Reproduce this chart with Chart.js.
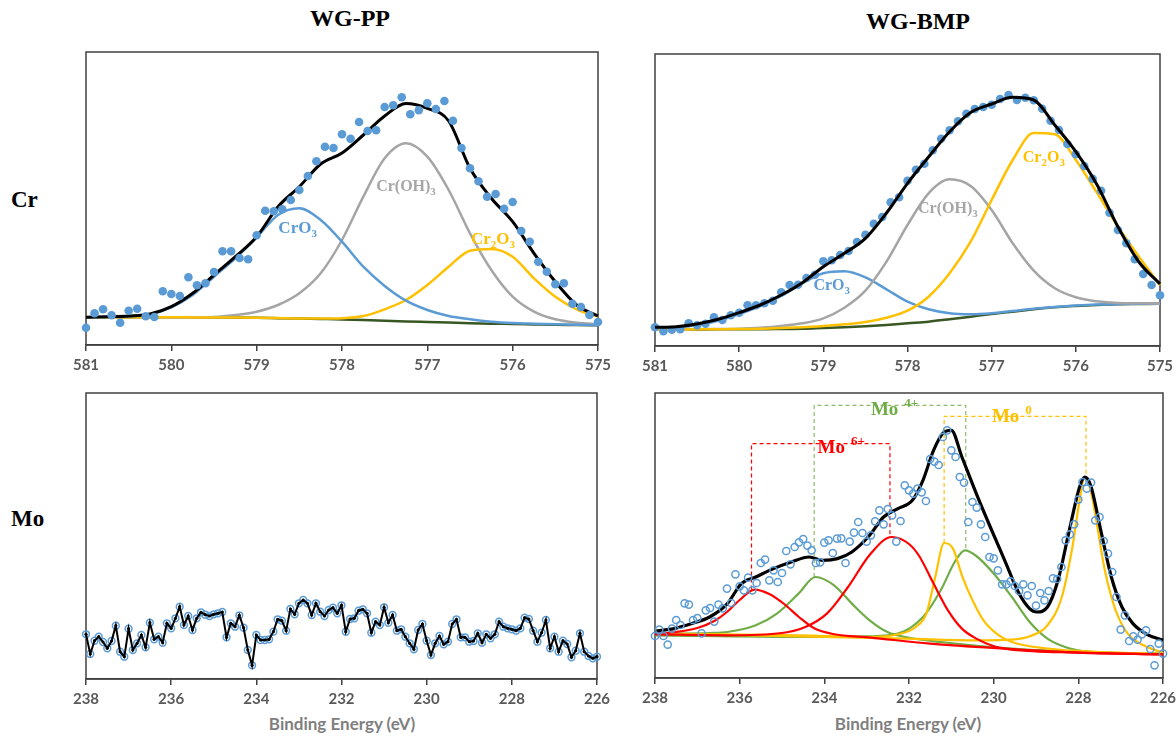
<!DOCTYPE html>
<html>
<head>
<meta charset="utf-8">
<script src="https://cdn.jsdelivr.net/npm/chart.js@4.4.1/dist/chart.umd.min.js"></script>
<style>
  body { margin: 0; background: #fff; width: 1176px; height: 738px; position: relative; overflow: hidden; }
  .panel { position: absolute; }
  .title { position: absolute; font: bold 24px "Liberation Serif"; line-height: 1; color: #000; white-space: nowrap; transform: translateX(-50%); }
  .row { position: absolute; font: bold 23px "Liberation Serif"; line-height: 1; color: #000; }
  .xlab { position: absolute; font: bold 17px Lato; line-height: 1; color: #7f7f7f; white-space: nowrap; transform: translateX(-50%); }
</style>
</head>
<body>
<div class="title" style="left:350px;top:6px">WG-PP</div>
<div class="title" style="left:918px;top:9px">WG-BMP</div>
<div class="row" style="left:11px;top:188px">Cr</div>
<div class="row" style="left:11px;top:507px">Mo</div>
<div class="xlab" style="left:342px;top:715px">Binding Energy (eV)</div>
<div class="xlab" style="left:908px;top:715px">Binding Energy (eV)</div>

<div class="panel" id="crPP"><canvas></canvas></div>
<div class="panel" id="crBMP"><canvas></canvas></div>
<div class="panel" id="moPP"><canvas></canvas></div>
<div class="panel" id="moBMP"><canvas></canvas></div>

<script>
// ---- Cr 2p, measured points every 0.1 eV from 581 to 575 ----
const crDotStart = 581, crDotStep = 0.1;
const crPP_dots = [17.3, 31.7, 35.7, 29.7, 22.3, 34.3, 36.3, 28.7, 28, 53.7, 51, 49, 67.7, 59.7, 61.7, 73, 93.7, 93.7, 87, 85.7,
  109.7, 134.3, 133.7, 135.7, 145, 155, 169, 183.7, 198.3, 197, 210.7, 206.3, 223, 214, 214.7, 238, 239.7, 247.7, 230.7, 234.7,
  241.7, 236, 244, 224.3, 197, 176.7, 163.7, 148.3, 151, 136.3, 143, 114, 103.3, 83.3, 73.3, 60.7, 61.7, 41.3, 38, 30, 23];
const crBMP_dots = [18.7, 14.7, 16.3, 16.7, 22.7, 20.7, 22.3, 28.7, 26, 30.7, 33.3, 40.7, 40.7, 42.7, 45.3, 53.7, 61, 61.3, 68, 71.3,
  84.7, 85.7, 91, 95, 104, 111.3, 122.3, 129, 143.7, 148.7, 165.3, 176.3, 182.3, 195.7, 207.3, 215.7, 224.7, 232.3, 237, 239,
  241.3, 247, 251, 246, 248.3, 245.7, 237.3, 225.3, 216, 202, 191.7, 180, 167.3, 155.3, 133.3, 116, 102.7, 86.7, 72, 61, 50.7];

// ---- Cr fitted curves, read at 0.25 eV ----
const crCurveE = [581, 580.75, 580.5, 580.25, 580, 579.75, 579.5, 579.25, 579, 578.75, 578.5, 578.25, 578,
  577.75, 577.5, 577.25, 577, 576.75, 576.5, 576.25, 576, 575.75, 575.5, 575.25, 575];
const crPP_fit   = [27.7, 28.3, 29, 31, 38.3, 51.7, 70, 88.3, 108.3, 138.3, 158.3, 181, 192, 210, 229, 241.5, 236.7, 224, 176.7, 146.7, 123.3, 91.7, 63.3, 40, 29];
const crPP_CrO3  = [27.7, 28, 28.7, 30.7, 37.7, 50, 68.3, 86.7, 107.7, 130, 136.7, 125, 103.3, 78.3, 59, 44.3, 35, 29, 25.7, 23.3, 22, 21.3, 20.7, 20.3, 20];
const crPP_CrOH3 = [27.7, 27.7, 27.7, 27.7, 27.7, 27.7, 28, 30, 33.3, 40, 51.7, 71.7, 105, 148.3, 186.7, 201.7, 188.3, 155, 111.7, 75, 48.3, 33.3, 25.7, 22.3, 20.7];
const crPP_Cr2O3 = [27.7, 27.7, 27.7, 27.7, 27.7, 27.6, 27.5, 27.4, 27.2, 26.9, 26.6, 26.5, 26.8, 29, 35.7, 45, 60, 78.3, 94.3, 96, 88.3, 66.7, 48.3, 35.7, 28.3];
const crPP_base  = [27.7, 27.7, 27.7, 27.7, 27.7, 27.6, 27.5, 27.4, 27.2, 26.8, 26.4, 26, 25.6, 25, 24.3, 23.6, 23, 22.4, 21.8, 21.3, 21, 20.6, 20.2, 20, 19.7];

const crBMP_fit   = [18.7, 19.3, 22, 26.7, 33.3, 41, 51, 63.3, 79.3, 92.7, 107.7, 133, 162.7, 189, 214.3, 233.5, 242, 248.7, 246, 221, 194.3, 161.5, 119.3, 84, 62];
const crBMP_CrO3  = [18, 18.7, 21, 25.3, 32, 40, 50, 62.7, 72.7, 74.7, 68.7, 56.7, 44.3, 36.7, 32.7, 31.7, 32.7, 35, 37.3, 39, 40.4, 41.4, 41.9, 42.2, 42.3];
const crBMP_CrOH3 = [16.3, 16.3, 16.7, 17, 17.3, 18.3, 20, 22.7, 27.7, 38.3, 55.3, 84.3, 121, 152.7, 166.7, 160, 136, 102.7, 75.3, 57.7, 48.7, 44.7, 43, 42.7, 42.3];
const crBMP_Cr2O3 = [16.3, 16.3, 16.7, 16.7, 17, 17.3, 18, 18.7, 20, 21.7, 24, 28.3, 35.3, 49.3, 72.7, 104.3, 146, 186, 213, 211.7, 186, 153.3, 119.3, 89.3, 61];
const crBMP_base  = [16.3, 16.3, 16.3, 16.7, 16.7, 16.7, 17, 17.3, 18, 18.7, 19.7, 21, 22.7, 24.3, 26.7, 29.3, 32, 34.3, 36.7, 38.7, 40, 41, 41.7, 42, 42.3];

// ---- Mo 3d, measured points every 0.1 eV from 238 to 226 ----
const moDotStart = 238, moDotStep = 0.1;
const moPP_dots = [44.7, 25, 38.3, 42.3, 37, 30.7, 38, 53.3, 27.3, 22.3, 50.3, 29, 35.7, 44, 31.7, 56.3, 39.7, 42.3, 36.3, 55.7,
  50.7, 60.7, 72.3, 54, 63, 49, 60.7, 66.7, 64.3, 63, 64.7, 65.7, 67, 41.7, 55.7, 52.3, 63.7, 51.3, 29, 13.7,
  44, 39, 39, 39.7, 47.3, 59.7, 58.3, 48.3, 70, 64.7, 75.7, 79, 75.7, 64, 75.7, 67.3, 63, 69, 71.3, 65.7,
  73.7, 47.3, 60, 60.7, 68.3, 69.7, 65.7, 46.3, 57.3, 54, 71.7, 56.3, 64, 48.3, 49.7, 42.3, 35.7, 29.7, 49, 55,
  38.3, 24, 35.7, 43, 34.7, 37.3, 55, 59.7, 41.7, 41.7, 37.3, 38, 45.7, 36.3, 44.7, 40.7, 44.7, 57.3, 52.3, 50.7,
  49.7, 48.3, 50.7, 61.3, 60, 48.3, 37.3, 46.3, 59, 30.7, 42.3, 27.3, 38.3, 35, 21.7, 28.3, 45.7, 27.3, 23, 20.7, 22.3];
const moBMP_dots = [42, 48.4, 42, 33.4, 49.4, 58, 53, 74.7, 73.4, 58, 60, 44.7, 67.7, 70, 56.4, 73.4, 69.7, 89.4, 75, 103.7,
  91.7, 87.7, 100.4, 87.7, 95, 115, 118.4, 97.7, 107.7, 96, 105, 127, 113.7, 131, 135.7, 139, 132.4, 127.7, 115, 115.7,
  135.4, 137.7, 125, 139.4, 139.7, 115, 136.4, 145.4, 156, 145, 136.4, 142.7, 156.7, 167.7, 153.7, 169, 162.7, 136.4, 157, 192.7,
  187.7, 184.4, 189.4, 185.7, 177, 219, 216.4, 213, 241, 247.7, 227.7, 221, 201, 195.4, 156, 176, 170.4, 153.7, 141, 121,
  119.7, 107.7, 93.7, 93.7, 96.7, 92, 87, 93.7, 82.7, 92, 72.4, 85, 77.7, 87, 99.7, 99, 111, 137.7, 143.7, 153.7,
  178.4, 196, 189.4, 195.4, 157.7, 161, 137, 124.4, 106, 81, 48.4, 62.7, 37, 41.7, 38.4, 43.7, 47.7, 29, 12.7, 34.4, 24.4];

// ---- Mo 3d WG-BMP fitted curves (energy, intensity pairs) ----
const moFitE = [238, 237.55, 237.13, 236.71, 236.29, 235.96, 235.62, 235.2, 234.78, 234.36, 234.03, 233.69, 233.35, 232.93, 232.6, 232.26,
  231.92, 231.67, 231.42, 231.17, 231.0, 230.75, 230.41, 230.08, 229.74, 229.4, 229.15, 228.98, 228.73, 228.48, 228.23, 227.97,
  227.85, 227.71, 227.47, 227.22, 226.97, 226.71, 226.38, 226];
const moFit = [47, 49.4, 54.4, 61, 74.4, 94.4, 101, 109.4, 116, 121, 117.7, 119.4, 126, 142.7, 161, 169.4,
  177.7, 197.7, 227.7, 246, 247.7, 221, 184.4, 151, 117.7, 84.4, 69.4, 66, 71, 97.7, 144.4, 191,
  201, 192.7, 147.7, 101, 71, 54.4, 43.7, 37.7];
const mo6aE = [238, 237.5, 237, 236.6, 236.3, 236, 235.65, 235.3, 234.95, 234.6, 234.25, 233.8, 232.9, 231.5, 229.75, 228, 226];
const mo6a  = [44.3, 46, 50, 57, 66, 78, 88.4, 84, 74, 61, 50, 44, 40.4, 34.4, 29.4, 25.4, 23.7];
const mo6bE = [238, 236.3, 235, 234.45, 233.94, 233.44, 232.93, 232.41, 232, 231.76, 231.42, 231.08, 230.75, 230.41, 229.99, 229.57, 228, 226];
const mo6b  = [43.7, 42.7, 45, 51, 64.4, 91, 123, 141, 134, 122, 94.4, 67.7, 49.4, 39.4, 31.7, 28.4, 25.4, 23.7];
const mo4aE = [238, 236.7, 236.29, 235.62, 235.12, 234.61, 234.21, 233.77, 233.35, 232.93, 232.51, 232.09, 231.25, 229.57, 227.9, 226];
const mo4a  = [44.4, 45, 46, 52.7, 64.4, 84.4, 101, 92.7, 74.4, 57.7, 46, 41, 36, 29.4, 26, 24.4];
const mo4bE = [238, 234.61, 232.93, 232.26, 231.67, 231.25, 230.92, 230.68, 230.41, 229.99, 229.57, 229.15, 228.73, 228.31, 227.89, 227.05, 226];
const mo4b  = [42.7, 41, 41.7, 44.4, 61, 87.7, 116, 127.7, 122, 104, 81, 56, 39.4, 31, 27, 25, 24.4];
const mo0aE = [238, 234.61, 232.93, 232.26, 231.84, 231.59, 231.38, 231.17, 230.96, 230.75, 230.5, 230.24, 229.91, 229.57, 228.73, 227.47, 226];
const mo0a  = [44.4, 42.7, 41, 43.7, 51, 64.4, 101, 135, 129.4, 102.7, 77.7, 57.7, 43.7, 36, 29.4, 26, 24.4];
const mo0bE = [238, 234.61, 232.09, 230.41, 229.57, 229.15, 228.73, 228.39, 228.14, 227.97, 227.85, 227.71, 227.55, 227.39, 227.22, 227.05, 226.8, 226.46, 226];
const mo0b  = [44.4, 41.7, 39.4, 37.7, 38.4, 41.7, 52.7, 81, 131, 177.7, 201, 187.7, 151, 111, 81, 60.4, 42.7, 32.7, 25];

// dashed brackets joining the doublet peaks
const br6E = [235.72, 235.72, 232.45, 232.45], br6 = [88.4, 234.4, 234.4, 141];
const br4E = [234.24, 234.24, 230.66, 230.66], br4 = [101, 272.7, 272.7, 127.7];
const br0E = [231.17, 231.17, 227.82, 227.82], br0 = [135, 261.7, 261.7, 201];

const BLUE = '#5B9BD5', GRAY = '#A5A5A5', GOLD = '#FFC000', DKGREEN = '#385723',
      RED = '#FF0000', GREEN = '#70AD47', AXIS = '#404040';

const grid = (start, step, ys) => ys.map((v, i) => ({ x: +(start - i * step).toFixed(2), y: v }));
const pairs = (xs, ys) => ys.map((v, i) => ({ x: xs[i], y: v }));

const curve = (data, color, width, order) => ({
  data, borderColor: color, borderWidth: width, pointRadius: 0, fill: false,
  cubicInterpolationMode: 'monotone', order, clip: false
});
const dashed = (data, color) => ({
  data, borderColor: color, borderWidth: 1.2, borderDash: [4, 3], pointRadius: 0, tension: 0, fill: false, order: 5, clip: false
});
const filledDots = (data, order) => ({
  data, showLine: false, pointRadius: 4.3, pointBackgroundColor: BLUE, pointBorderWidth: 0, order, clip: false
});
const openDots = (data, r, order) => ({
  data, showLine: false, pointRadius: r, pointBackgroundColor: 'rgba(0,0,0,0)', pointBorderColor: BLUE, pointBorderWidth: 1.5, order, clip: false
});

const framePlugin = {
  id: 'frame',
  beforeDatasetsDraw(chart) {
    const { ctx, chartArea: a } = chart;
    ctx.save();
    ctx.strokeStyle = AXIS;
    ctx.lineWidth = 1.5;
    ctx.strokeRect(a.left, a.top, a.right - a.left, a.bottom - a.top);
    ctx.restore();
  }
};

// parts: [text, mode] mode 0 normal, 1 subscript, -1 superscript
const labelPlugin = {
  id: 'peakLabels',
  afterDatasetsDraw(chart, args, opts) {
    const { ctx, scales: { x, y } } = chart;
    (opts.items || []).forEach((it) => {
      const size = it.size, small = Math.round(size * 0.66);
      const font = (m) => `bold ${m ? small : size}px "Liberation Serif"`;
      ctx.save();
      ctx.fillStyle = it.color;
      ctx.textBaseline = 'alphabetic';
      let w = 0;
      it.parts.forEach(([t, m]) => { ctx.font = font(m); w += ctx.measureText(t).width + (m < 0 ? (it.gap || 0) : 0); });
      let px = x.getPixelForValue(it.x) - w / 2;
      const base = y.getPixelForValue(it.y) + size * 0.33;
      it.parts.forEach(([t, m]) => {
        ctx.font = font(m);
        if (m < 0) px += it.gap || 0;
        const dy = m > 0 ? size * 0.22 : m < 0 ? -size * 0.42 : 0;
        ctx.fillText(t, px, base + dy);
        px += ctx.measureText(t).width;
      });
      ctx.restore();
    });
  }
};

function makePanel(id, box, xr, yMax, datasets, labels) {
  const wrap = document.getElementById(id);
  wrap.style.left = (box.l - 20) + 'px';
  wrap.style.top = (box.t - 10) + 'px';
  wrap.style.width = (box.r - box.l + 40) + 'px';
  wrap.style.height = (box.b - box.t + 52) + 'px';
  new Chart(wrap.querySelector('canvas'), {
    type: 'line',
    data: { datasets },
    options: {
      responsive: true,
      maintainAspectRatio: false,
      animation: false,
      layout: { padding: { left: 20, right: 20, top: 10, bottom: 0 } },
      plugins: { legend: { display: false }, tooltip: { enabled: false }, peakLabels: { items: labels } },
      scales: {
        x: {
          type: 'linear', reverse: true, min: xr[0], max: xr[1],
          afterFit: (s) => { s.height = 42; },
          ticks: { stepSize: xr[2], autoSkip: false, maxRotation: 0, padding: 5, color: '#595959',
                   font: { family: 'Lato', size: 15, weight: 'bold' } },
          grid: { drawOnChartArea: false, tickLength: 6, color: AXIS, lineWidth: 1.5 },
          border: { color: AXIS, width: 1.5 }
        },
        y: { display: false, min: 0, max: yMax }
      }
    },
    plugins: [framePlugin, labelPlugin]
  });
}

makePanel('crPP', { l: 86, t: 52, r: 598, b: 345 }, [575, 581, 1], 293, [
  filledDots(grid(crDotStart, crDotStep, crPP_dots), 0),
  curve(pairs(crCurveE, crPP_fit), '#000', 3, 1),
  curve(pairs(crCurveE, crPP_CrO3), BLUE, 2.5, 2),
  curve(pairs(crCurveE, crPP_CrOH3), GRAY, 2.5, 3),
  curve(pairs(crCurveE, crPP_Cr2O3), GOLD, 2.5, 2),
  curve(pairs(crCurveE, crPP_base), DKGREEN, 2.5, 4)
], [
  { x: 578.52, y: 117.7, color: BLUE, size: 17, parts: [['CrO', 0], ['3', 1]] },
  { x: 577.25, y: 159, color: GRAY, size: 16, parts: [['Cr(OH)', 0], ['3', 1]] },
  { x: 576.23, y: 106.7, color: GOLD, size: 17, parts: [['Cr', 0], ['2', 1], ['O', 0], ['3', 1]] }
]);

makePanel('crBMP', { l: 655, t: 54, r: 1160, b: 346 }, [575, 581, 1], 292, [
  curve(pairs(crCurveE, crBMP_fit), '#000', 3, 0),
  filledDots(grid(crDotStart, crDotStep, crBMP_dots), 1),
  curve(pairs(crCurveE, crBMP_Cr2O3), GOLD, 2.5, 2),
  curve(pairs(crCurveE, crBMP_CrOH3), GRAY, 2.5, 3),
  curve(pairs(crCurveE, crBMP_CrO3), BLUE, 2.5, 3),
  curve(pairs(crCurveE, crBMP_base), DKGREEN, 2.5, 4)
], [
  { x: 576.38, y: 189.3, color: GOLD, size: 16, parts: [['Cr', 0], ['2', 1], ['O', 0], ['3', 1]] },
  { x: 577.52, y: 138.3, color: GRAY, size: 16, parts: [['Cr(OH)', 0], ['3', 1]] },
  { x: 578.9, y: 61, color: BLUE, size: 16, parts: [['CrO', 0], ['3', 1]] }
]);

makePanel('moPP', { l: 86, t: 393, r: 597, b: 679 }, [226, 238, 2], 286, [
  { data: grid(moDotStart, moDotStep, moPP_dots), borderColor: '#000', borderWidth: 2, tension: 0,
    pointRadius: 1.6, pointBackgroundColor: '#000', pointBorderWidth: 0, order: 0, clip: false },
  openDots(grid(moDotStart, moDotStep, moPP_dots), 3.4, 1)
], []);

makePanel('moBMP', { l: 655, t: 393, r: 1163, b: 678 }, [226, 238, 2], 285, [
  openDots(grid(moDotStart, moDotStep, moBMP_dots), 3.6, 0),
  curve(pairs(moFitE, moFit), '#000', 3.2, 1),
  curve(pairs(mo0aE, mo0a), GOLD, 2.2, 3),
  curve(pairs(mo0bE, mo0b), GOLD, 2.2, 3),
  curve(pairs(mo4aE, mo4a), GREEN, 2.2, 3),
  curve(pairs(mo4bE, mo4b), GREEN, 2.2, 3),
  curve(pairs(mo6aE, mo6a), RED, 2.2, 2),
  curve(pairs(mo6bE, mo6b), RED, 2.2, 2),
  dashed(pairs(br6E, br6), RED),
  dashed(pairs(br4E, br4), '#8DBB6A'),
  dashed(pairs(br0E, br0), GOLD)
], [
  { x: 233.6, y: 231.7, color: RED, size: 19, gap: 6, parts: [['Mo', 0], ['6+', -1]] },
  { x: 232.34, y: 269.4, color: GREEN, size: 19, gap: 6, parts: [['Mo', 0], ['4+', -1]] },
  { x: 229.57, y: 262.7, color: GOLD, size: 19, gap: 6, parts: [['Mo', 0], ['0', -1]] }
]);
</script>
</body>
</html>
